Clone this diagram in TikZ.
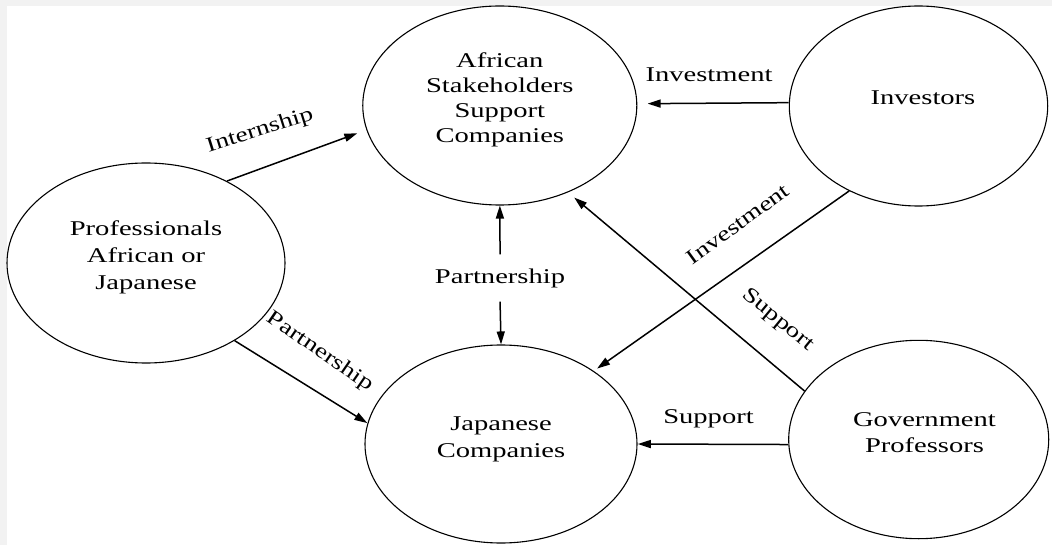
\documentclass[tikz,border=0pt]{standalone}
\usepackage{fontspec}
\setmainfont{Liberation Serif}
\usetikzlibrary{arrows.meta,shapes.geometric}
\begin{document}
\begin{tikzpicture}[x=0.73529pt, y=-1pt, xscale=1.36, transform shape,
  ell/.style={draw, ellipse, line width=1.1pt, inner sep=0pt},
  txt/.style={align=center, inner sep=0pt},
  lbl/.style={inner sep=0pt, font=\fontsize{21}{26}\selectfont},
  rlbl/.style={inner sep=0pt, font=\fontsize{21}{26}\selectfont,
    xscale=0.73529, rotate=#1, xscale=1.3},
  arr/.style={line width=1.5pt, -{Triangle[length=13pt,width=8pt]}}]
\useasboundingbox (0,0) rectangle (1052,545);
\fill[gray!10] (0,0) rectangle (1052,545);
\fill[white] (7,6) rectangle (1052,545);
% ellipses
\node[ell, minimum width=201.5pt, minimum height=199pt] (A) at (499.8,105.5) {};
\node[ell, minimum width=190pt, minimum height=200pt] (I) at (918.5,106) {};
\node[ell, minimum width=204.4pt, minimum height=200pt] (P) at (146,263) {};
\node[ell, minimum width=200pt, minimum height=198pt] (J) at (501,444) {};
\node[ell, minimum width=191.2pt, minimum height=198.4pt] (G) at (918.7,439.5) {};
% texts
\node[txt, font=\fontsize{21}{25}\selectfont] (At) at (499.8,100) {African\\Stakeholders\\Support\\Companies};
\node[txt, font=\fontsize{21}{26}\selectfont] (It) at (923,98) {Investors};
\node[txt, font=\fontsize{21}{27}\selectfont] (Pt) at (146,257.5) {Professionals\\African or\\Japanese};
\node[txt, font=\fontsize{21}{27}\selectfont] (Jt) at (501,439.5) {Japanese\\Companies};
\node[txt, font=\fontsize{21}{26}\selectfont] (Gt) at (924.5,433) {Government\\Professors};
% labels
\node[rlbl=17.5] (L1) at (260,131) {Internship};
\node[lbl] (L2) at (709,75) {Investment};
\node[rlbl=36] (L3) at (738,224) {Investment};
\node[lbl, minimum height=47pt] (PL) at (500,278) {Partnership};
\node[rlbl=-39.5] (L5) at (778,320) {Support};
\node[lbl] (L6) at (708.5,418.7) {Support};
\node[rlbl=-34.5] (L7) at (320,352) {Partnership};
% connectors
\draw[arr, shorten >=9.5pt] (P.54) -- (A.194);
\draw[arr] (P.310) -- (J.168);
\draw[arr] (PL.north) -- (A.south);
\draw[arr] (PL.south) -- (J.north);
\draw[arr, shorten >=10pt] (I.178) -- (A.1);
\draw[arr, shorten >=4pt] (I.239) -- (J.47);
\draw[arr, shorten >=8pt] (G.150) -- (A.300);
\draw[arr] (G.183) -- (J.0);
\end{tikzpicture}
\end{document}
